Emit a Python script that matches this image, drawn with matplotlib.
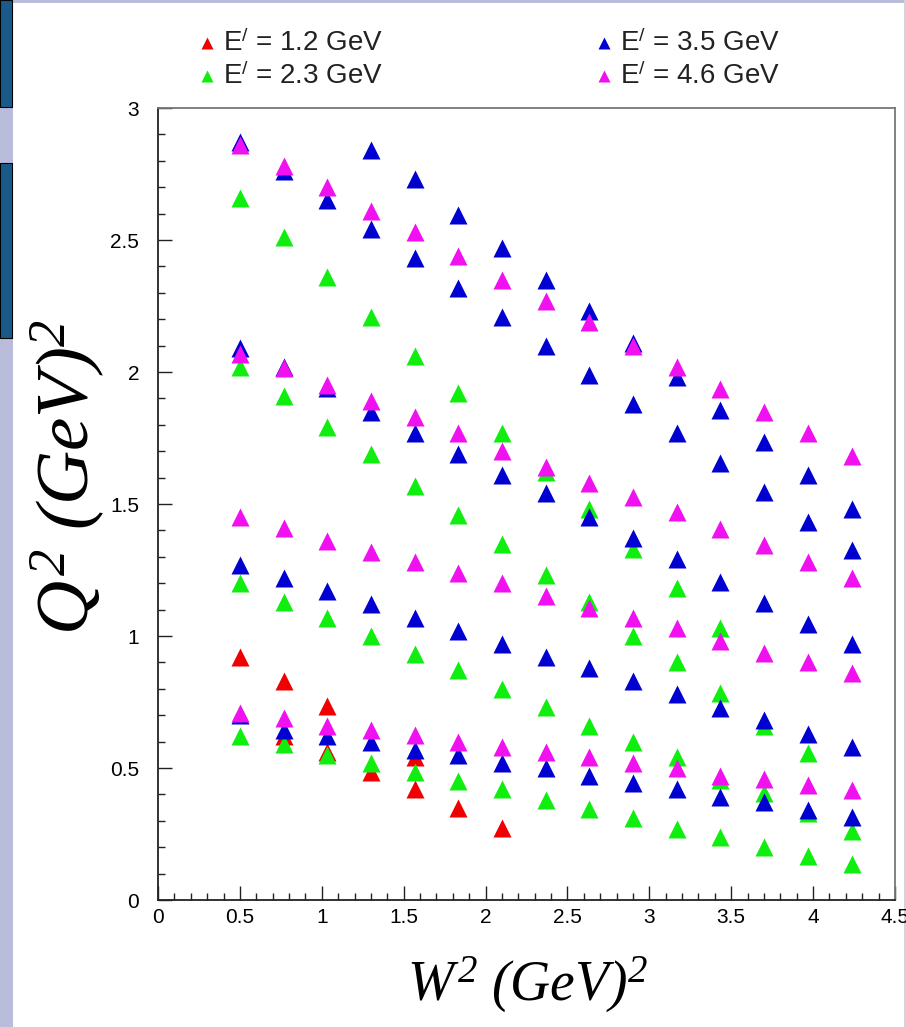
"""Q^2 vs W^2 kinematic coverage for four scattered-electron energies."""

import matplotlib
matplotlib.use("Agg")
import matplotlib.pyplot as plt
from matplotlib.patches import Rectangle
from matplotlib.lines import Line2D
from matplotlib.ticker import MultipleLocator, FuncFormatter

plt.rcParams["font.family"] = ["Liberation Sans", "DejaVu Sans"]
plt.rcParams["mathtext.fontset"] = "custom"
plt.rcParams["mathtext.it"] = "Liberation Serif:italic"
plt.rcParams["mathtext.rm"] = "Liberation Serif:italic"
plt.rcParams["mathtext.sf"] = "Liberation Sans"

# W^2 bin centres (GeV^2)
W2 = [0.50, 0.77, 1.03, 1.30, 1.57, 1.83, 2.10, 2.37, 2.63, 2.90, 3.17, 3.43, 3.70, 3.97, 4.24]

# E' = 1.2 GeV
w2_e12 = [0.50, 0.77, 0.77, 1.03, 1.03, 1.30, 1.57, 1.57, 1.83, 2.10]
q2_e12 = [0.92, 0.83, 0.62, 0.735, 0.56, 0.485, 0.54, 0.42, 0.347, 0.272]

# E' = 2.3 GeV (four angle settings)
q2_e23_a = [2.66, 2.51, 2.36, 2.21, 2.06, 1.92, 1.77, 1.62, 1.48, 1.33, 1.18, 1.03]
q2_e23_b = [2.02, 1.91, 1.79, 1.69, 1.57, 1.46, 1.35, 1.23, 1.13, 1.00, 0.90, 0.785, 0.66, 0.555]
q2_e23_c = [1.20, 1.13, 1.07, 1.00, 0.93, 0.87, 0.80, 0.73, 0.66, 0.60, 0.54, 0.455, 0.405, 0.33, 0.26]
q2_e23_d = [0.62, 0.59, 0.55, 0.52, 0.485, 0.45, 0.42, 0.38, 0.345, 0.31, 0.27, 0.24, 0.20, 0.167, 0.135]

# E' = 3.5 GeV
q2_e35_a = [2.84, 2.73, 2.595, 2.47, 2.35, 2.23, 2.11, 1.98, 1.855, 1.735, 1.61, 1.48]  # from W2[3]
q2_e35_b = [2.87, 2.76, 2.65, 2.54, 2.43, 2.32, 2.21, 2.10, 1.99, 1.88, 1.77, 1.655, 1.545, 1.43, 1.325]
q2_e35_c = [2.09, 2.02, 1.94, 1.85, 1.77, 1.69, 1.61, 1.54, 1.45, 1.37, 1.29, 1.205, 1.125, 1.045, 0.97]
q2_e35_d = [1.27, 1.22, 1.17, 1.12, 1.07, 1.02, 0.97, 0.92, 0.88, 0.83, 0.78, 0.727, 0.68, 0.63, 0.58]
q2_e35_e = [0.70, 0.645, 0.62, 0.60, 0.57, 0.55, 0.52, 0.50, 0.47, 0.445, 0.42, 0.39, 0.37, 0.34, 0.315]

# E' = 4.6 GeV
q2_e46_a = [2.86, 2.78, 2.70, 2.61, 2.53, 2.44, 2.35, 2.27, 2.19, 2.10, 2.02, 1.935, 1.85, 1.77, 1.68]
q2_e46_b = [2.07, 2.015, 1.95, 1.89, 1.83, 1.77, 1.70, 1.64, 1.58, 1.525, 1.47, 1.405, 1.345, 1.28, 1.22]
q2_e46_c = [1.45, 1.41, 1.36, 1.32, 1.28, 1.24, 1.20, 1.15, 1.105, 1.07, 1.03, 0.98, 0.935, 0.90, 0.86]
q2_e46_d = [0.71, 0.69, 0.66, 0.644, 0.625, 0.60, 0.58, 0.56, 0.54, 0.52, 0.50, 0.47, 0.46, 0.435, 0.415]

labels = ["E$^{\\mathsf{/}}$ = 1.2 GeV", "E$^{\\mathsf{/}}$ = 2.3 GeV",
          "E$^{\\mathsf{/}}$ = 3.5 GeV", "E$^{\\mathsf{/}}$ = 4.6 GeV"]
colors = ["#f00000", "#10ee10", "#0000d0", "#f010f0"]


def collect(*rows, start=0):
    xs, ys = [], []
    for r in rows:
        xs += W2[start:start + len(r)]
        ys += r
    return xs, ys


series = [
    (w2_e12, q2_e12),
    collect(q2_e23_a, q2_e23_b, q2_e23_c, q2_e23_d),
    tuple(a + b for a, b in zip(collect(q2_e35_a, start=3),
                                collect(q2_e35_b, q2_e35_c, q2_e35_d, q2_e35_e))),
    collect(q2_e46_a, q2_e46_b, q2_e46_c, q2_e46_d),
]

W, H = 906, 1027
fig = plt.figure(figsize=(W / 100, H / 100), dpi=100)

# slide frame on the left / top
fig.add_artist(Rectangle((0, 0), 13 / W, 1, transform=fig.transFigure,
                         facecolor="#b9bddb", edgecolor="none", zorder=0))
fig.add_artist(Rectangle((0, 1 - 3 / H), 1, 3 / H, transform=fig.transFigure,
                         facecolor="#b9bddb", edgecolor="none", zorder=0))
fig.add_artist(Rectangle((904 / W, 0), 2 / W, 1, transform=fig.transFigure,
                         facecolor="#d4d4d8", edgecolor="none", zorder=0))
for y0, y1 in [(0, 107), (163, 338)]:
    fig.add_artist(Rectangle((0, 1 - y1 / H), 12 / W, (y1 - y0) / H,
                             transform=fig.transFigure, facecolor="#1a5a8a",
                             edgecolor="black", lw=0.8, zorder=1))

ax = fig.add_axes([158 / W, 1 - 900 / H, (895 - 158) / W, (900 - 108) / H])
for (xs, ys), c in zip(series, colors):
    ax.plot(xs, ys, ls="none", marker="^", ms=13, color=c, mec="none")

ax.set_xlim(0, 4.5)
ax.set_ylim(0, 3)
ax.xaxis.set_major_locator(MultipleLocator(0.5))
ax.xaxis.set_minor_locator(MultipleLocator(0.1))
ax.yaxis.set_major_locator(MultipleLocator(0.5))
ax.yaxis.set_minor_locator(MultipleLocator(0.1))
fmt = FuncFormatter(lambda v, p: f"{v:g}")
ax.xaxis.set_major_formatter(fmt)
ax.yaxis.set_major_formatter(fmt)
ax.tick_params(which="both", direction="in", width=1.0, color="#222222",
               labelsize=15, top=False, right=False)
ax.tick_params(which="major", length=10)
ax.tick_params(which="minor", length=5)
ax.tick_params(axis="x", pad=6)
ax.tick_params(axis="y", pad=13.5)
for s in ("left", "bottom"):
    ax.spines[s].set_color("#222222")
    ax.spines[s].set_linewidth(1.3)
for s in ("top", "right"):
    ax.spines[s].set_color("#777777")
    ax.spines[s].set_linewidth(1.3)

fig.text(527 / W, 1 - 985 / H, r"$W^{2}\ (GeV)^{2}$", fontsize=40,
         ha="center", va="center")
fig.text(68 / W, 1 - 477 / H, r"$Q^{2}\ (GeV)^{2}$", fontsize=54,
         ha="center", va="center", rotation=90)

# legend, two columns
slots = [(207, 43), (207, 76), (604, 43), (604, 76)]
for (mx, my), lab, c in zip(slots, labels, colors):
    fig.add_artist(Line2D([mx / W], [1 - my / H], transform=fig.transFigure,
                          marker="^", ms=8, color=c, mec="none", ls="none"))
    fig.text((mx + 16) / W, 1 - my / H, lab, fontsize=20, ha="left",
             va="center", color="#222222")

fig.savefig("out.png", dpi=100)
